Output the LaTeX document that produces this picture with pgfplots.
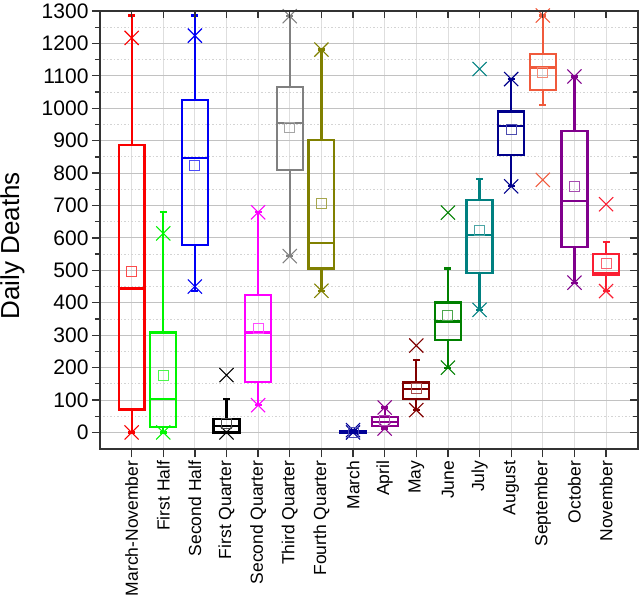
\documentclass[border=0pt]{standalone}
\usepackage{pgfplots}
\pgfplotsset{compat=1.18}
\usepgfplotslibrary{statistics}
\usepackage{fontspec}
\setmainfont{Liberation Sans}

\definecolor{cA}{RGB}{250,0,0}
\definecolor{cB}{RGB}{0,245,0}
\definecolor{cC}{RGB}{0,0,245}
\definecolor{cD}{RGB}{0,0,0}
\definecolor{cE}{RGB}{255,0,255}
\definecolor{cF}{RGB}{128,128,128}
\definecolor{cG}{RGB}{128,128,0}
\definecolor{cH}{RGB}{0,0,150}
\definecolor{cI}{RGB}{140,0,140}
\definecolor{cJ}{RGB}{128,0,0}
\definecolor{cK}{RGB}{0,128,0}
\definecolor{cL}{RGB}{0,128,128}
\definecolor{cM}{RGB}{0,0,140}
\definecolor{cN}{RGB}{240,90,60}
\definecolor{cO}{RGB}{128,0,140}
\definecolor{cP}{RGB}{250,30,50}

\pgfplotsset{
  boxst/.style={line width=2.2pt, draw=#1,
    boxplot/box extend=0.82, boxplot/whisker extend=0.22},
  crossst/.style={only marks, mark=x, mark size=10pt, color=#1,
    mark options={line width=1.1pt}},
  meanst/.style={only marks, mark=square, mark size=5pt, color=#1!70!white,
    mark options={line width=0.9pt}},
}

\begin{document}
\begin{tikzpicture}
\path[use as bounding box] (0,0) rectangle (640pt,605pt);
\begin{axis}[
  at={(100pt,155.7pt)}, anchor=south west,
  width=537.7pt, height=438.3pt, scale only axis,
  boxplot/draw direction=y,
  xmin=0, xmax=17, ymin=-52, ymax=1300,
  xtick={1,...,16},
  xticklabels={March-November, First Half, Second Half, First Quarter,
    Second Quarter, Third Quarter, Fourth Quarter, March, April, May,
    June, July, August, September, October, November},
  xticklabel style={rotate=90, anchor=east, font=\fontsize{17.5}{19}\selectfont},
  ytick={0,100,...,1300}, minor y tick num=1,
  yticklabel style={font=\fontsize{21}{24}\selectfont},
  /pgf/number format/assume math mode=true,
  /pgf/number format/set thousands separator={},
  tick align=outside, tick pos=left,
  major tick length=8pt, minor tick length=5pt,
  tick style={black!80, line width=1.3pt},
  xmajorgrids, ymajorgrids, yminorgrids,
  major x grid style={black!13, line width=0.8pt},
  major y grid style={black!24, line width=0.9pt},
  minor y grid style={black!17, dash pattern=on 1.5pt off 2pt, line width=0.8pt},
  axis line style={black!80, line width=1.6pt},
  ylabel={Daily Deaths},
  ylabel style={at={(axis description cs:-0.163,0.464)}, anchor=center,
    font=\fontsize{26}{28}\selectfont},
]
% March-November
\addplot[boxst=cA, boxplot prepared={draw position=1, lower whisker=0,
  lower quartile=71, median=444, upper quartile=886, upper whisker=1286}] coordinates {};
\addplot[crossst=cA] coordinates {(1,1217) (1,0)};
\addplot[meanst=cA] coordinates {(1,496)};
% First Half
\addplot[boxst=cB, boxplot prepared={draw position=2, lower whisker=0,
  lower quartile=17, median=103, upper quartile=308, upper whisker=679}] coordinates {};
\addplot[crossst=cB] coordinates {(2,614) (2,0)};
\addplot[meanst=cB] coordinates {(2,175)};
% Second Half
\addplot[boxst=cC, boxplot prepared={draw position=3, lower whisker=437,
  lower quartile=578, median=846, upper quartile=1026, upper whisker=1286}] coordinates {};
\addplot[crossst=cC] coordinates {(3,1224) (3,450)};
\addplot[meanst=cC] coordinates {(3,823)};
% First Quarter
\addplot[boxst=cD, boxplot prepared={draw position=4, lower whisker=0,
  lower quartile=0, median=20, upper quartile=42, upper whisker=103}] coordinates {};
\addplot[crossst=cD] coordinates {(4,177) (4,0)};
\addplot[meanst=cD] coordinates {(4,27)};
% Second Quarter
\addplot[boxst=cE, boxplot prepared={draw position=5, lower whisker=84,
  lower quartile=156, median=308, upper quartile=424, upper whisker=679}] coordinates {};
\addplot[crossst=cE] coordinates {(5,679) (5,84)};
\addplot[meanst=cE] coordinates {(5,321)};
% Third Quarter
\addplot[boxst=cF, boxplot prepared={draw position=6, lower whisker=544,
  lower quartile=810, median=954, upper quartile=1065, upper whisker=1284}] coordinates {};
\addplot[crossst=cF] coordinates {(6,1284) (6,544)};
\addplot[meanst=cF] coordinates {(6,941)};
% Fourth Quarter
\addplot[boxst=cG, boxplot prepared={draw position=7, lower whisker=437,
  lower quartile=506, median=584, upper quartile=902, upper whisker=1181}] coordinates {};
\addplot[crossst=cG] coordinates {(7,1181) (7,437)};
\addplot[meanst=cG] coordinates {(7,705)};
% March
\addplot[boxst=cH, boxplot prepared={draw position=8, lower whisker=0,
  lower quartile=0, median=1, upper quartile=3, upper whisker=7}] coordinates {};
\addplot[crossst=cH] coordinates {(8,7) (8,0)};
\addplot[meanst=cH] coordinates {(8,1)};
% April
\addplot[boxst=cI, boxplot prepared={draw position=9, lower whisker=12,
  lower quartile=21, median=33, upper quartile=48, upper whisker=77}] coordinates {};
\addplot[crossst=cI] coordinates {(9,77) (9,12)};
\addplot[meanst=cI] coordinates {(9,36)};
% May
\addplot[boxst=cJ, boxplot prepared={draw position=10, lower whisker=69,
  lower quartile=102, median=133, upper quartile=154, upper whisker=223}] coordinates {};
\addplot[crossst=cJ] coordinates {(10,268) (10,69)};
\addplot[meanst=cJ] coordinates {(10,136)};
% June
\addplot[boxst=cK, boxplot prepared={draw position=11, lower whisker=200,
  lower quartile=285, median=342, upper quartile=401, upper whisker=506}] coordinates {};
\addplot[crossst=cK] coordinates {(11,678) (11,200)};
\addplot[meanst=cK] coordinates {(11,360)};
% July
\addplot[boxst=cL, boxplot prepared={draw position=12, lower whisker=378,
  lower quartile=491, median=609, upper quartile=717, upper whisker=782}] coordinates {};
\addplot[crossst=cL] coordinates {(12,1121) (12,378)};
\addplot[meanst=cL] coordinates {(12,623)};
% August
\addplot[boxst=cM, boxplot prepared={draw position=13, lower whisker=759,
  lower quartile=855, median=946, upper quartile=990, upper whisker=1090}] coordinates {};
\addplot[crossst=cM] coordinates {(13,1090) (13,759)};
\addplot[meanst=cM] coordinates {(13,934)};
% September
\addplot[boxst=cN, boxplot prepared={draw position=14, lower whisker=1009,
  lower quartile=1057, median=1126, upper quartile=1168, upper whisker=1286}] coordinates {};
\addplot[crossst=cN] coordinates {(14,1286) (14,779)};
\addplot[meanst=cN] coordinates {(14,1111)};
% October
\addplot[boxst=cO, boxplot prepared={draw position=15, lower whisker=462,
  lower quartile=573, median=714, upper quartile=929, upper whisker=1098}] coordinates {};
\addplot[crossst=cO] coordinates {(15,1098) (15,462)};
\addplot[meanst=cO] coordinates {(15,759)};
% November
\addplot[boxst=cP, boxplot prepared={draw position=16, lower whisker=436,
  lower quartile=485, median=493, upper quartile=550, upper whisker=587}] coordinates {};
\addplot[crossst=cP] coordinates {(16,704) (16,436)};
\addplot[meanst=cP] coordinates {(16,522)};
\end{axis}
% inward ticks on top and right
\begin{axis}[
  at={(100pt,155.7pt)}, anchor=south west,
  width=537.7pt, height=438.3pt, scale only axis,
  xmin=0, xmax=17, ymin=-52, ymax=1300,
  xtick={1,...,16}, xticklabels={},
  ytick={0,100,...,1300}, minor y tick num=1, yticklabels={},
  tick align=inside, tick pos=right,
  major tick length=7.5pt, minor tick length=4.5pt,
  tick style={black!80, line width=1.3pt},
  axis line style={black!80, line width=1.6pt},
]
\end{axis}
\end{tikzpicture}
\end{document}
